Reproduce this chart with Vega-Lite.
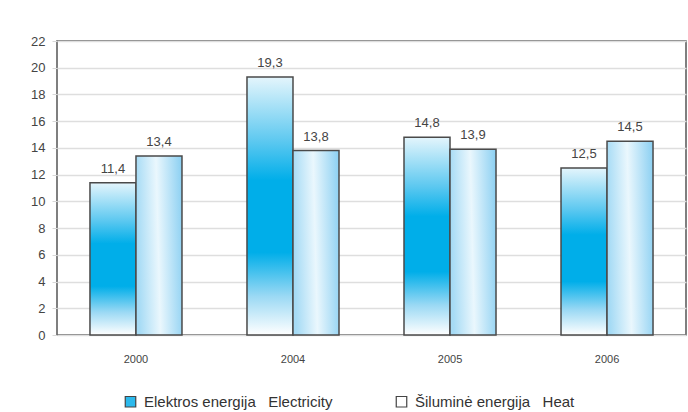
{
  "$schema": "https://vega.github.io/schema/vega-lite/v6.json",
  "width": 629,
  "height": 294,
  "autosize": {"type": "none"},
  "padding": {"left": 57, "top": 41, "right": 2, "bottom": 77},
  "background": "#ffffff",
  "config": {
    "font": "Liberation Sans",
    "locale": {"number": {"decimal": ",", "thousands": ".", "grouping": [3], "currency": ["", " €"]}},
    "view": {"stroke": "#555555", "strokeWidth": 1.5, "fill": "#ffffff"}
  },
  "data": {
    "values": [
      {"year": "2000", "series": "Elektros energija\u00a0\u00a0\u00a0Electricity", "value": 11.4},
      {"year": "2000", "series": "Šiluminė energija\u00a0\u00a0\u00a0Heat", "value": 13.4},
      {"year": "2004", "series": "Elektros energija\u00a0\u00a0\u00a0Electricity", "value": 19.3},
      {"year": "2004", "series": "Šiluminė energija\u00a0\u00a0\u00a0Heat", "value": 13.8},
      {"year": "2005", "series": "Elektros energija\u00a0\u00a0\u00a0Electricity", "value": 14.8},
      {"year": "2005", "series": "Šiluminė energija\u00a0\u00a0\u00a0Heat", "value": 13.9},
      {"year": "2006", "series": "Elektros energija\u00a0\u00a0\u00a0Electricity", "value": 12.5},
      {"year": "2006", "series": "Šiluminė energija\u00a0\u00a0\u00a0Heat", "value": 14.5}
    ]
  },
  "encoding": {
    "x": {
      "field": "year", "type": "nominal",
      "scale": {"paddingInner": 0.414, "paddingOuter": 0.21},
      "axis": {"title": null, "labelAngle": 0, "labelFontSize": 11, "labelColor": "#444444", "ticks": false, "domain": false, "labelPadding": 18}
    },
    "xOffset": {"field": "series", "type": "nominal", "sort": ["Elektros energija\u00a0\u00a0\u00a0Electricity", "Šiluminė energija\u00a0\u00a0\u00a0Heat"]},
    "y": {
      "field": "value", "type": "quantitative",
      "scale": {"domain": [0, 22], "nice": false},
      "axis": {"title": null, "values": [0, 2, 4, 6, 8, 10, 12, 14, 16, 18, 20, 22], "labelFontSize": 13, "labelColor": "#444444", "domain": false, "tickColor": "#d8d8d8", "tickSize": 5, "labelPadding": 7, "gridColor": "#dedede", "gridWidth": 1.5}
    }
  },
  "layer": [
    {
      "mark": {"type": "bar", "stroke": "#4a4a4a", "strokeWidth": 1.5},
      "encoding": {
        "color": {
          "condition": {
            "test": "indexof(datum.series, 'Electricity') >= 0",
            "value": {"gradient": "linear", "x1": 0, "y1": 0, "x2": 0, "y2": 1, "stops": [
              {"offset": 0, "color": "#e4f5fc"},
              {"offset": 0.25, "color": "#5cc8f0"},
              {"offset": 0.4, "color": "#00aee9"},
              {"offset": 0.68, "color": "#00aee9"},
              {"offset": 0.85, "color": "#9bd9f4"},
              {"offset": 1, "color": "#ffffff"}
            ]}
          },
          "value": {"gradient": "linear", "x1": 0, "y1": 0.2, "x2": 1, "y2": 0.1, "stops": [
            {"offset": 0, "color": "#a6dbf5"},
            {"offset": 0.45, "color": "#eaf7fd"},
            {"offset": 1, "color": "#8cd0f2"}
          ]}
        }
      }
    },
    {
      "mark": {"type": "square", "size": 0, "filled": true},
      "encoding": {
        "color": {
          "field": "series", "type": "nominal",
          "scale": {
            "domain": ["Elektros energija\u00a0\u00a0\u00a0Electricity", "Šiluminė energija\u00a0\u00a0\u00a0Heat"],
            "range": ["#2cb9ec", "#ffffff"]
          },
          "legend": {
            "title": null, "orient": "none", "direction": "horizontal",
            "legendX": 66, "legendY": 353,
            "symbolType": "square", "symbolSize": 110, "symbolStrokeColor": "#444444", "symbolStrokeWidth": 1.2, "symbolOpacity": 1,
            "labelFontSize": 15, "labelColor": "#333333", "columnPadding": 60, "labelOffset": 6, "labelLimit": 400
          }
        }
      }
    },
    {
      "mark": {"type": "text", "baseline": "bottom", "dy": -7, "fontSize": 13, "color": "#444444"},
      "encoding": {
        "text": {"field": "value", "type": "quantitative", "format": ".1f"}
      }
    }
  ]
}
